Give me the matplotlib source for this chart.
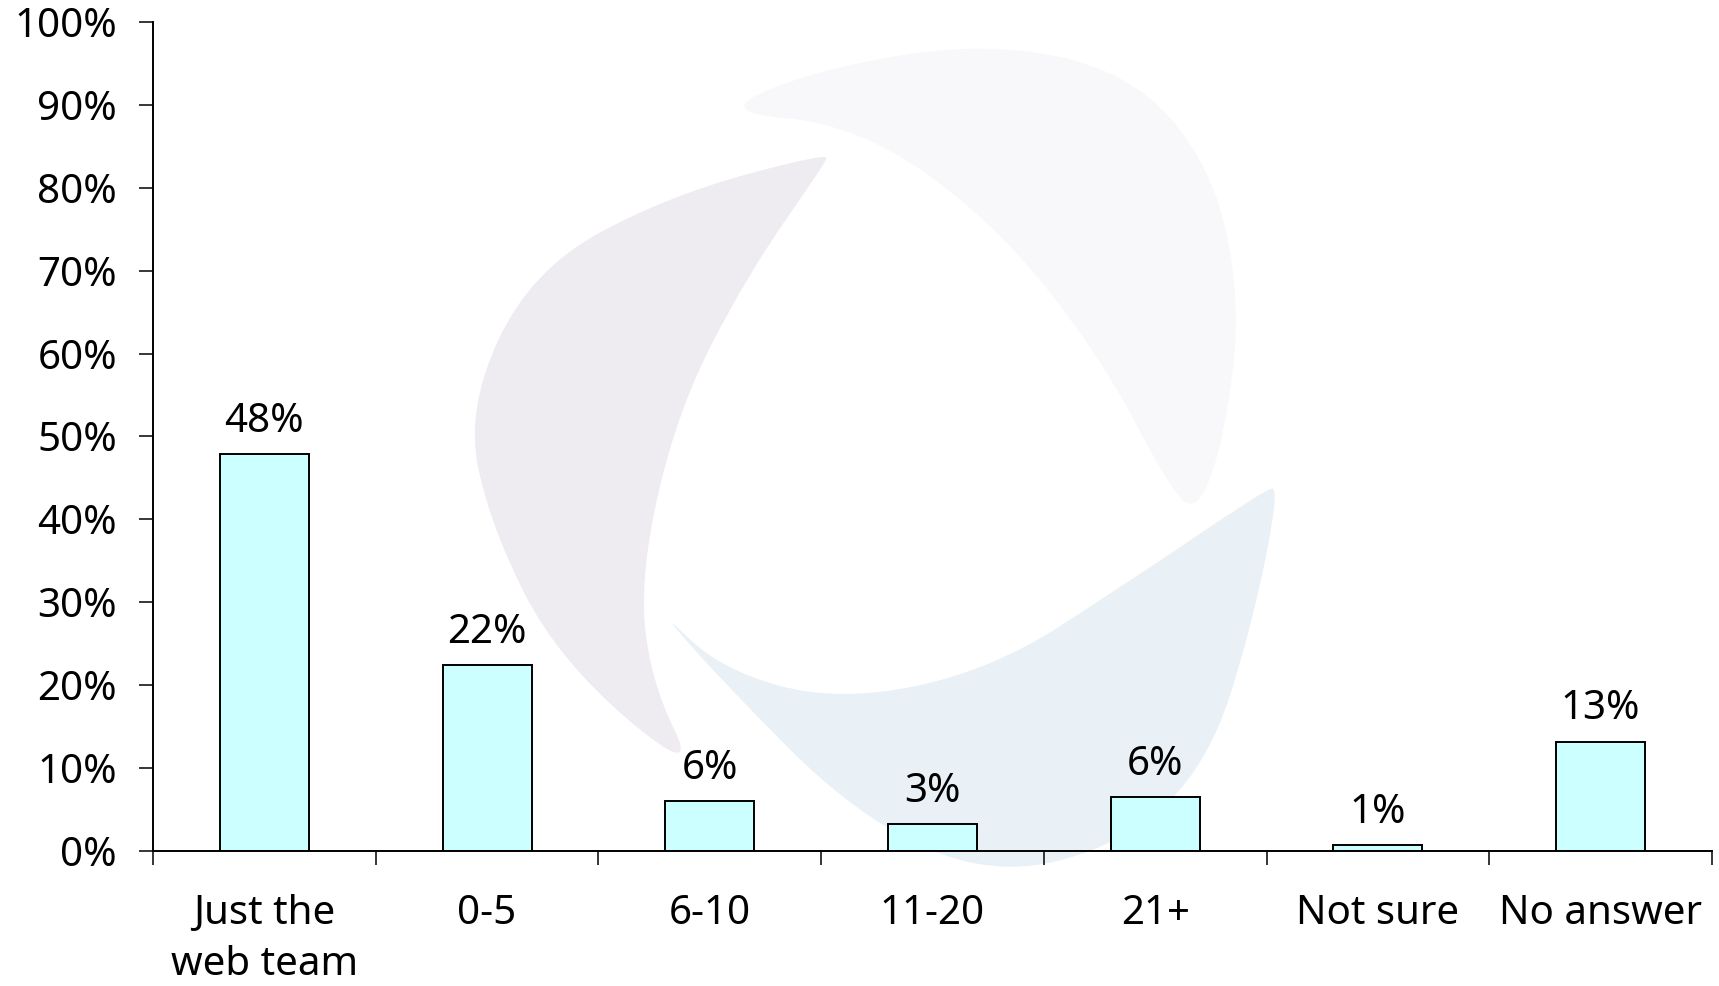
import matplotlib
matplotlib.use("Agg")
import matplotlib.pyplot as plt
from matplotlib.path import Path
from matplotlib.patches import PathPatch

categories = ["Just the\nweb team", "0-5", "6-10", "11-20", "21+", "Not sure", "No answer"]
values = [47.9, 22.4, 6.0, 3.2, 6.5, 0.7, 13.2]
value_labels = ["48%", "22%", "6%", "3%", "6%", "1%", "13%"]
y_ticks = [0, 10, 20, 30, 40, 50, 60, 70, 80, 90, 100]

W, H = 1719, 986

plt.rcParams['font.family'] = ['Noto Sans', 'DejaVu Sans']

fig = plt.figure(figsize=(W / 100, H / 100), dpi=100)
ax = fig.add_axes([153 / W, 1 - 851 / H, (1712 - 153) / W, (851 - 22) / H])
ax.patch.set_visible(False)


def smooth_shape(pts):
    """Closed smooth outline through midpoints of the given polygon (pixel coords)."""
    pts = [(x / W, 1 - y / H) for x, y in pts]
    n = len(pts)
    mids = [((pts[i][0] + pts[(i + 1) % n][0]) / 2, (pts[i][1] + pts[(i + 1) % n][1]) / 2)
            for i in range(n)]
    verts = [mids[-1]]
    codes = [Path.MOVETO]
    for i in range(n):
        verts += [pts[i], mids[i]]
        codes += [Path.CURVE3, Path.CURVE3]
    verts.append(mids[-1])
    codes.append(Path.CLOSEPOLY)
    return Path(verts, codes)


# faint logo watermark behind the chart
swooshes = [
    ("#eeecf1", [(829, 152), (667, 196), (531, 270), (466, 409), (490, 525), (558, 660),
                 (699, 780), (650, 680), (640, 572), (678, 409), (748, 274), (824, 165)]),
    ("#f8f7fa", [(712, 112), (829, 66), (990, 42), (1130, 72), (1212, 166), (1241, 301),
                 (1225, 436), (1198, 512), (1171, 491), (1100, 355), (992, 220), (856, 124)]),
    ("#e9f1f7", [(1280, 486), (1252, 626), (1209, 762), (1127, 843), (992, 878), (856, 816),
                 (721, 680), (656, 606), (721, 670), (840, 702), (992, 670), (1127, 583),
                 (1263, 491)]),
]
for color, pts in swooshes:
    fig.add_artist(PathPatch(smooth_shape(pts), facecolor=color, edgecolor="none",
                             transform=fig.transFigure, zorder=-5))

x = list(range(len(categories)))
bars = ax.bar(x, values, width=0.4, color="#ccffff", edgecolor="black", linewidth=1.4, zorder=3)

for rect, lab in zip(bars, value_labels):
    ax.annotate(lab, (rect.get_x() + rect.get_width() / 2, rect.get_height()),
                xytext=(0, 16), textcoords="offset points", ha="center", va="baseline",
                fontsize=29)

ax.set_xlim(-0.5, len(categories) - 0.5)
ax.set_ylim(0, 100)
ax.set_yticks(y_ticks)
ax.set_yticklabels([f"{t}%" for t in y_ticks], fontsize=29)

ax.set_xticks([i - 0.5 for i in range(len(categories) + 1)])
ax.set_xticklabels([])
ax.set_xticks(x, minor=True)
ax.set_xticklabels(categories, minor=True, fontsize=29, linespacing=1.38)
ax.tick_params(axis="x", which="major", length=10, width=1.1, direction="out")
ax.tick_params(axis="x", which="minor", length=0, pad=31)
ax.tick_params(axis="y", length=10, width=1.1, direction="out", pad=16)

for side in ["top", "right"]:
    ax.spines[side].set_visible(False)
for side in ["left", "bottom"]:
    ax.spines[side].set_linewidth(1.4)
    ax.spines[side].set_zorder(4)

fig.savefig("out.png", dpi=100)
